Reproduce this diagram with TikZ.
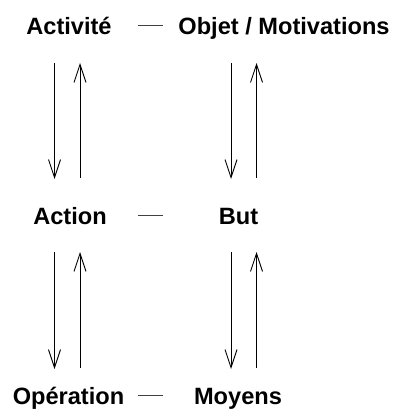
\documentclass[tikz,border=0pt]{standalone}
\usepackage{fontspec}
\setmainfont{Liberation Sans}
\usetikzlibrary{arrows.meta}
\begin{document}
\begin{tikzpicture}[x=1pt,y=-1pt,
  lbl/.style={font=\fontsize{23.6}{28}\selectfont\bfseries, anchor=base, inner sep=0pt},
  vline/.style={line width=0.9pt, -{Straight Barb[length=18pt,width=12pt]}},
  hdash/.style={line width=0.9pt, black!75}]
\useasboundingbox (0,0) rectangle (394,420);
% labels
\node[lbl] (act) at (69,34.5) {Activité};
\node[lbl] (obj) at (284,34.5) {Objet / Motivations};
\node[lbl] (acn) at (70,224) {Action};
\node[lbl] (but) at (238.5,224) {But};
\node[lbl] (ope) at (68.5,404) {Opération};
\node[lbl] (moy) at (238,404) {Moyens};
% dash ends
\coordinate (d1a) at (138,25); \coordinate (d1b) at (163,25);
\coordinate (d2a) at (138,215); \coordinate (d2b) at (163,215);
\coordinate (d3a) at (138,395); \coordinate (d3b) at (163,395);
\draw[hdash] (d1a) -- (d1b);
\draw[hdash] (d2a) -- (d2b);
\draw[hdash] (d3a) -- (d3b);
% arrow ends
\coordinate (l1t) at (54.5,63);  \coordinate (l1b) at (54.5,179);
\coordinate (l2t) at (80,63);    \coordinate (l2b) at (80,178);
\coordinate (r1t) at (231,63);   \coordinate (r1b) at (231,179);
\coordinate (r2t) at (256.5,63); \coordinate (r2b) at (256.5,178);
\coordinate (l3t) at (54.5,252); \coordinate (l3b) at (54.5,369);
\coordinate (l4t) at (80,252);   \coordinate (l4b) at (80,368);
\coordinate (r3t) at (231,252);  \coordinate (r3b) at (231,369);
\coordinate (r4t) at (256.5,252);\coordinate (r4b) at (256.5,368);
\draw[vline] (l1t) -- (l1b);
\draw[vline] (l2b) -- (l2t);
\draw[vline] (r1t) -- (r1b);
\draw[vline] (r2b) -- (r2t);
\draw[vline] (l3t) -- (l3b);
\draw[vline] (l4b) -- (l4t);
\draw[vline] (r3t) -- (r3b);
\draw[vline] (r4b) -- (r4t);
\end{tikzpicture}
\end{document}
